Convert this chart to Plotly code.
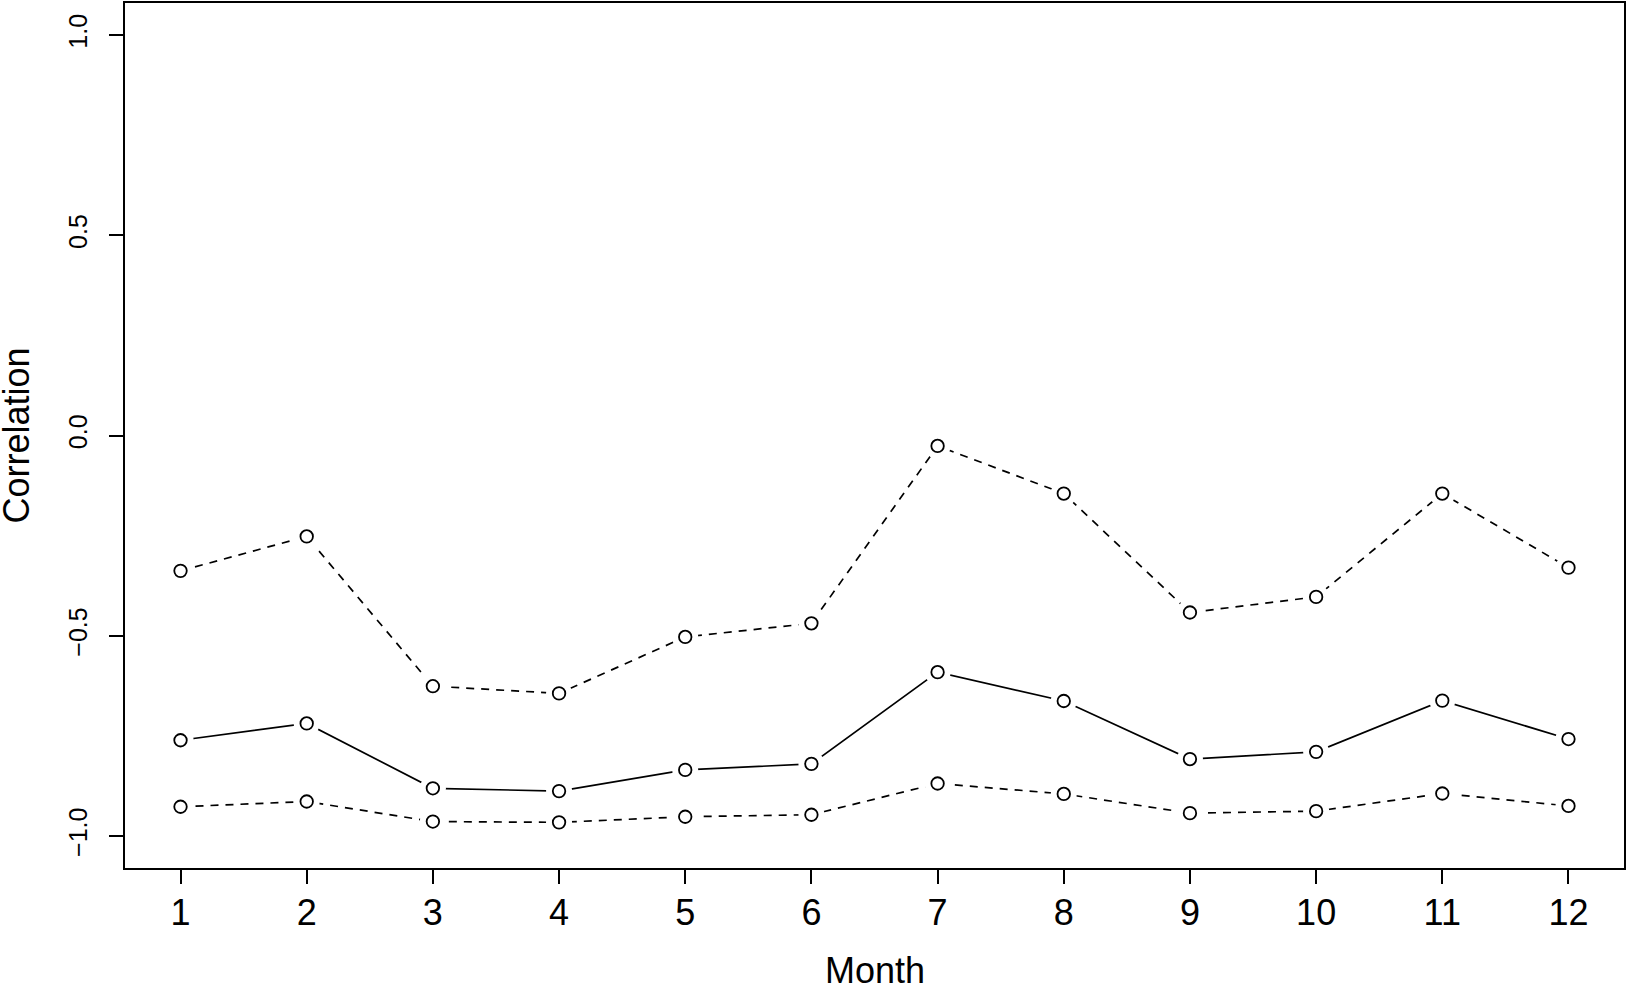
import plotly.graph_objects as go

# monthly correlation estimate with lower / upper bounds
months = list(range(1, 13))
corr_mid = [-0.761, -0.719, -0.881, -0.888, -0.835, -0.820,
            -0.591, -0.663, -0.808, -0.790, -0.662, -0.758]
corr_upper = [-0.338, -0.252, -0.626, -0.644, -0.503, -0.469,
              -0.026, -0.145, -0.442, -0.403, -0.145, -0.330]
corr_lower = [-0.927, -0.914, -0.964, -0.966, -0.952, -0.947,
              -0.869, -0.895, -0.943, -0.938, -0.894, -0.925]

y_ticks = [-1.0, -0.5, 0.0, 0.5, 1.0]
y_ticklabels = ['\u22121.0', '\u22120.5', '0.0', '0.5', '1.0']

FONT = 'Liberation Sans, Arial, sans-serif'

fig = go.Figure()

series = [
    (corr_upper, '8px,7px'),
    (corr_mid, 'solid'),
    (corr_lower, '8px,7px'),
]

# lines first
for vals, dash in series:
    fig.add_trace(go.Scatter(
        x=months, y=vals, mode='lines',
        line=dict(color='black', width=1.7, dash=dash),
        showlegend=False, hoverinfo='skip'
    ))

# white discs to open the gap round each point, like R's type="b"
for vals, _ in series:
    fig.add_trace(go.Scatter(
        x=months, y=vals, mode='markers',
        marker=dict(size=26, color='white', line=dict(width=0)),
        showlegend=False, hoverinfo='skip'
    ))

# open circles
for vals, _ in series:
    fig.add_trace(go.Scatter(
        x=months, y=vals, mode='markers',
        marker=dict(size=12.5, color='white', symbol='circle',
                    line=dict(color='black', width=1.8)),
        showlegend=False
    ))

axis_common = dict(
    showgrid=False, zeroline=False, automargin=False,
    showline=True, mirror=True, linecolor='black', linewidth=1.5,
    ticks='outside', ticklen=14, tickwidth=1.5, tickcolor='black',
)

fig.update_xaxes(
    range=[0.56, 12.44], tickmode='array', tickvals=months,
    tickfont=dict(family=FONT, size=36, color='black'),
    ticklabelstandoff=-2,
    **axis_common
)
fig.update_yaxes(
    range=[-1.08, 1.08], tickmode='array', tickvals=y_ticks,
    ticktext=y_ticklabels, tickangle=-90,
    tickfont=dict(family=FONT, size=25, color='black'),
    ticklabelstandoff=12,
    **axis_common
)

fig.add_annotation(
    text='Month', xref='paper', yref='paper', x=0.5, y=0,
    yshift=-102, xanchor='center', yanchor='middle', showarrow=False,
    font=dict(family=FONT, size=36, color='black')
)
fig.add_annotation(
    text='Correlation', xref='paper', yref='paper', x=0, y=0.5,
    xshift=-109, xanchor='center', yanchor='middle', textangle=-90,
    showarrow=False, font=dict(family=FONT, size=36, color='black')
)

fig.update_layout(
    width=1629, height=986,
    margin=dict(l=125, r=5, t=3, b=118),
    plot_bgcolor='white', paper_bgcolor='white',
)

# page body has a default 8px margin; drop it so the figure fills the window
fig.write_html(
    "out.html",
    config={'displayModeBar': False},
    post_script="document.body.style.margin='0';document.body.style.overflow='hidden';",
)
